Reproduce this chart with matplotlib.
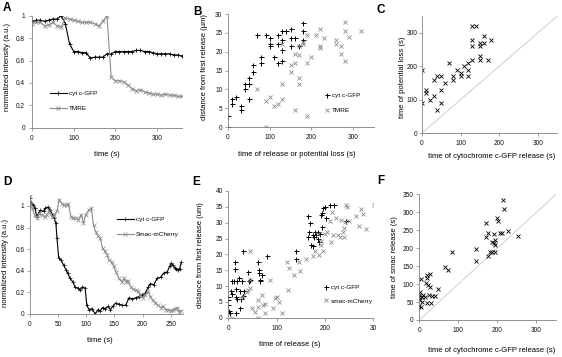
import matplotlib
matplotlib.use('Agg')
import matplotlib.pyplot as plt

plt.rcParams['font.family'] = ['Liberation Sans', 'DejaVu Sans']

# ---- panel A: intensity traces
a_time = [0, 10, 20, 30, 40, 50, 60, 70, 80, 90, 100, 110, 120, 130, 140, 150, 160, 170, 180,
          190, 200, 210, 220, 230, 240, 250, 260, 270, 280, 290, 300, 310, 320, 330, 340, 350, 360]
a_cyt = [0.95, 0.96, 0.96, 0.95, 0.96, 0.97, 0.97, 1.00, 0.93, 0.75, 0.68, 0.68, 0.67, 0.67, 0.62,
         0.63, 0.63, 0.63, 0.66, 0.66, 0.68, 0.68, 0.68, 0.68, 0.68, 0.69, 0.69, 0.68, 0.68, 0.67,
         0.66, 0.66, 0.66, 0.66, 0.65, 0.65, 0.64]
a_tmre = [0.93, 0.94, 0.94, 0.91, 0.92, 0.94, 0.91, 0.90, 0.98, 0.97, 0.96, 0.95, 0.94, 0.94, 0.94,
          0.93, 0.91, 0.95, 1.00, 0.45, 0.42, 0.42, 0.41, 0.38, 0.35, 0.33, 0.34, 0.32, 0.31, 0.30,
          0.30, 0.29, 0.30, 0.29, 0.29, 0.28, 0.28]

# ---- panel B: distance vs time of release
b_cyt_t = [0, 0, 10, 10, 20, 30, 30, 40, 40, 50, 50, 50, 60, 60, 70, 80, 80, 90, 100, 100, 100, 110,
           120, 120, 120, 130, 130, 130, 130, 140, 150, 150, 150, 160, 170, 180, 180, 180]
b_cyt_d = [3, 0, 7.5, 6, 8, 5.5, 4.5, 11.5, 10, 11.5, 13, 7.5, 16.5, 14.5, 24.5, 18.5, 17, 24.5, 22,
           21.5, 23.5, 18.5, 24.5, 22, 17, 25.5, 23, 20.5, 17.5, 25.5, 26, 23.5, 21.5, 23.5, 21.5,
           27.5, 25.5, 23]
b_tmre_t = [70, 90, 90, 100, 110, 120, 130, 130, 130, 150, 150, 160, 160, 160, 170, 170, 170, 170,
            180, 180, 190, 190, 190, 200, 210, 220, 220, 220, 230, 260, 260, 270, 270, 280, 280, 280,
            290, 320]
b_tmre_d = [10, 0, 7, 8, 5.5, 6, 7.5, 11.5, 22, 14.5, 16.5, 4.5, 17, 19.5, 11.5, 13, 21.5, 19, 22.5,
            22, 24.5, 17, 3, 18.5, 24.5, 26, 21.5, 21, 23.5, 23, 22, 21.5, 19.5, 28, 25.5, 17.5, 24,
            25.5]

# ---- panel C: potential loss vs cyt c release
c_cyt = [0, 0, 10, 10, 20, 30, 30, 40, 40, 50, 50, 50, 60, 70, 80, 80, 90, 100, 100, 110, 120, 120,
         120, 130, 140, 130, 130, 130, 150, 150, 150, 150, 160, 160, 170, 180]
c_loss = [190, 90, 130, 120, 100, 160, 110, 70, 170, 170, 130, 90, 150, 210, 170, 160, 190, 180, 170,
          200, 210, 190, 170, 320, 320, 280, 260, 220, 270, 260, 230, 220, 290, 270, 220, 280]

# ---- panel D: intensity traces
d_cyt_t = [0, 3, 6, 9, 12, 15, 18, 24, 27, 32, 36, 40, 43, 46, 48, 51, 55, 60, 64, 67, 71, 76, 80,
           85, 89, 93, 98, 101, 105, 110, 116, 121, 125, 129, 134, 139, 143, 147, 152, 158, 164, 170,
           176, 182, 188, 193, 199, 205, 210, 214, 220, 226, 232, 238, 244, 248, 251, 254, 257, 260,
           263, 266, 269]
d_cyt = [1.07, 1.02, 1.01, 0.98, 0.90, 0.93, 0.96, 0.95, 0.98, 0.99, 0.96, 0.92, 0.89, 0.84, 0.70,
         0.52, 0.50, 0.45, 0.41, 0.38, 0.33, 0.30, 0.25, 0.24, 0.22, 0.25, 0.24, 0.08, 0.04, 0.05,
         0.00, 0.04, 0.03, 0.06, 0.05, 0.07, 0.04, 0.07, 0.10, 0.09, 0.08, 0.08, 0.15, 0.14, 0.15,
         0.16, 0.18, 0.19, 0.25, 0.28, 0.27, 0.33, 0.34, 0.38, 0.39, 0.44, 0.47, 0.45, 0.43, 0.42,
         0.41, 0.42, 0.48]
d_smac_t = [0, 2, 4, 8, 12, 16, 21, 26, 30, 34, 39, 43, 48, 52, 57, 61, 65, 68, 73, 77, 82, 86, 91,
            95, 99, 104, 109, 113, 117, 121, 125, 129, 133, 137, 140, 145, 149, 153, 158, 163, 167,
            171, 174, 179, 183, 188, 192, 196, 200, 205, 210, 214, 218, 223, 228, 232, 236, 241, 246,
            250, 254, 258, 262, 265, 268]
d_smac = [1.09, 1.02, 0.98, 0.92, 0.89, 0.93, 0.92, 0.90, 0.92, 0.95, 0.90, 0.92, 0.95, 1.06, 1.02,
          1.01, 1.01, 1.02, 0.90, 0.89, 0.89, 0.87, 0.92, 0.84, 0.92, 0.96, 0.98, 0.82, 0.76, 0.72,
          0.70, 0.61, 0.58, 0.55, 0.50, 0.48, 0.44, 0.39, 0.33, 0.30, 0.33, 0.30, 0.31, 0.25, 0.23,
          0.22, 0.21, 0.18, 0.15, 0.18, 0.21, 0.16, 0.13, 0.10, 0.08, 0.06, 0.07, 0.04, 0.04, 0.03,
          0.04, 0.05, 0.06, 0.02, 0.03]

# ---- panel E: distance vs time of release
e_cyt_t = [0, 0, 0, 1, 3, 5, 7, 7, 12, 14, 14, 15, 16, 17, 19, 19, 22, 24, 24, 26, 28, 31, 31, 33,
           40, 43, 45, 62, 63, 64, 65, 66, 70, 80, 140, 140, 165, 166, 168, 170, 172, 175, 178, 180,
           182, 185, 186, 188, 190, 192, 194, 195, 197, 200, 203, 210, 220, 245, 176]
e_cyt_d = [6.5, 5.5, 4, 2, 1.5, 8.5, 11.5, 7.5, 11.5, 17.5, 15.5, 6.5, 1.5, 9, 11.5, 6, 12.5, 8.5, 3,
           6, 11.5, 21, 7, 8.5, 14.5, 11.5, 12, 17.5, 15, 14, 11.5, 12, 13.5, 19.5, 21, 18.5, 25.5,
           32, 27, 30, 23, 26, 25.5, 27, 26, 25, 27, 24, 26.5, 32.5, 33, 28.5, 34.5, 35, 31.5, 35.5,
           35.5, 30.5, 22.5]
e_smac_t = [8, 26, 30, 38, 41, 45, 45, 45, 50, 55, 61, 62, 62, 69, 72, 76, 77, 86, 93, 97, 100, 105,
            112, 121, 124, 125, 137, 146, 148, 162, 175, 180, 186, 188, 192, 193, 197, 200, 205, 210,
            212, 214, 218, 224, 228, 231, 234, 238, 240, 241, 240, 245, 247, 250, 265, 270, 276, 279,
            286, 302]
e_smac_d = [0, 6.3, 7, 8, 8.7, 21, 12, 9.5, 3, 1.9, 3.5, 0, 5.5, 7.2, 4, 4.2, 1.4, 11.9, 3.2, 6.1,
            6.6, 5, 1.4, 17.5, 8.7, 15.6, 13.5, 17.5, 14.7, 18.5, 19.5, 21, 26.5, 19.8, 24.2, 23, 21,
            26.3, 27, 30.5, 24, 33.3, 26, 31.4, 26.1, 25.6, 30.8, 27.2, 28.2, 30.1, 25.6, 35.5, 35,
            30.5, 32, 29, 34.3, 32.6, 28, 35.5]

# ---- panel F: smac release vs cyt c release
f_cyt = [215, 217, 170, 200, 202, 175, 170, 192, 206, 212, 226, 253, 195, 192, 187, 194, 187, 180,
         195, 175, 144, 144, 83, 67, 73, 4, 19, 27, 19, 16, 21, 27, 47, 2, 0, 10, 6, 14, 25, 33, 40,
         2, 8, 19, 30, 4, 0, 0]
f_smac = [334, 308, 269, 283, 277, 243, 230, 239, 243, 241, 249, 234, 222, 215, 218, 209, 190, 188,
          188, 179, 197, 164, 188, 147, 139, 113, 125, 128, 116, 104, 97, 93, 86, 79, 71, 71, 65, 63,
          71, 67, 67, 56, 51, 48, 48, 35, 39, 65]

W, H = 562, 357
fig = plt.figure(figsize=(W / 100, H / 100), dpi=100)

AXC = '#808080'
GRAY = '#8c8c8c'
TICK_FS = 4.7
LAB_FS = 5.5
LEG_FS = 4.6


def box(left, right, bottom, top, ypad=2):
    ax = fig.add_axes([left / W, 1 - bottom / H, (right - left) / W, (bottom - top) / H])
    for s in ['top', 'right']:
        ax.spines[s].set_visible(False)
    for s in ['left', 'bottom']:
        ax.spines[s].set_color(AXC)
        ax.spines[s].set_linewidth(0.6)
    ax.tick_params(length=2, width=0.5, color=AXC, labelsize=TICK_FS, labelcolor='#111111')
    ax.tick_params(axis='x', pad=3)
    ax.tick_params(axis='y', pad=ypad)
    return ax


def ftext(x, y, s, **kw):
    fig.text(x / W, 1 - y / H, s, ha='center', va='center', **kw)


def num(v):
    return '%g' % v


def leg(ax, x, y, **kw):
    ax.legend(loc='upper left', bbox_to_anchor=(x / W, 1 - y / H), bbox_transform=fig.transFigure,
              frameon=False, fontsize=LEG_FS, borderpad=0, borderaxespad=0, **kw)


# A
ax = box(32, 182, 127.7, 15.7, ypad=3)
ax.plot(a_time, a_cyt, color='black', lw=0.8, marker='+', ms=3, mew=0.6, label='cyt c-GFP')
ax.plot(a_time, a_tmre, color=GRAY, lw=0.8, marker='x', ms=2.6, mew=0.6, label='TMRE')
ax.set_xlim(0, 360)
ax.set_ylim(0, 1)
ax.set_xticks([0, 100, 200, 300])
ax.set_yticks([0, 0.2, 0.4, 0.6, 0.8, 1.0])
ax.set_yticklabels([num(v) for v in [0, 0.2, 0.4, 0.6, 0.8, 1]])
leg(ax, 50, 91, handlelength=2.6, handletextpad=0.3, labelspacing=1.4)

# B
ax = box(228, 374, 127, 14)
ax.plot(b_cyt_t, b_cyt_d, ls='none', color='black', marker='+', ms=3.6, mew=0.7, label='cyt c-GFP')
ax.plot(b_tmre_t, b_tmre_d, ls='none', color=GRAY, marker='x', ms=3, mew=0.6, label='TMRE')
ax.set_xlim(0, 350)
ax.set_ylim(0, 30)
ax.set_xticks([0, 100, 200, 300])
ax.set_yticks(range(0, 31, 5))
leg(ax, 324, 93, handlelength=1, handletextpad=0.2, labelspacing=1.4)

# C
ax = box(422, 557, 133, 16.3, ypad=1)
ax.plot([0, 350], [0, 350], color='#c8c8c8', lw=0.6)
ax.plot(c_cyt, c_loss, ls='none', color='black', marker='x', ms=3, mew=0.6)
ax.set_xlim(0, 350)
ax.set_ylim(0, 350)
ax.set_xticks([0, 100, 200, 300])
ax.set_yticks([0, 100, 200, 300])

# D
ax = box(30, 183, 314, 195.2)
ax.plot(d_cyt_t, d_cyt, color='black', lw=0.8, marker='+', ms=2.6, mew=0.5, label='cyt c-GFP')
ax.plot(d_smac_t, d_smac, color=GRAY, lw=0.8, marker='x', ms=2.4, mew=0.5, label='Smac-mCherry')
ax.set_xlim(0, 272)
ax.set_ylim(0, 1.1)
ax.set_xticks([0, 50, 100, 150, 200, 250])
ax.set_yticks([0, 0.2, 0.4, 0.6, 0.8, 1.0])
ax.set_yticklabels([num(v) for v in [0, 0.2, 0.4, 0.6, 0.8, 1]])
leg(ax, 117, 217, handlelength=2.6, handletextpad=0.3, labelspacing=1.4)

# E
ax = box(228.3, 373, 317.7, 191)
ax.plot(e_cyt_t, e_cyt_d, ls='none', color='black', marker='+', ms=3.6, mew=0.7, label='cyt c-GFP')
ax.plot(e_smac_t, e_smac_d, ls='none', color=GRAY, marker='x', ms=3, mew=0.6, label='smac-mCherry')
ax.set_xlim(0, 300)
ax.set_ylim(0, 40)
ax.set_xticks([0, 100, 200, 300])
ax.set_xticklabels(['0', '100', '200', '30'])
ax.set_yticks(range(0, 41, 5))
leg(ax, 323, 285, handlelength=1, handletextpad=0.2, labelspacing=1.2)

# F
ax = box(419.3, 556, 320, 194.3)
ax.plot([0, 350], [0, 350], color='#c8c8c8', lw=0.6)
ax.plot(f_cyt, f_smac, ls='none', color='black', marker='x', ms=3, mew=0.6)
ax.set_xlim(0, 350)
ax.set_ylim(0, 350)
ax.set_xticks([0, 100, 200, 300])
ax.set_yticks(range(0, 351, 50))

# axis titles
ftext(107, 155, 'time (s)', fontsize=LAB_FS)
ftext(8, 67, 'normalized intensity (a.u.)', fontsize=LAB_FS, rotation=90)
ftext(297, 155, 'time of release or potential loss (s)', fontsize=LAB_FS)
ftext(205, 67, 'distance from first release (\u00b5m)', fontsize=LAB_FS, rotation=90)
ftext(492, 157, 'time of cytochrome c-GFP release (s)', fontsize=LAB_FS)
ftext(402, 77, 'time of potential loss (s)', fontsize=LAB_FS, rotation=90)
ftext(100, 340, 'time (s)', fontsize=LAB_FS)
ftext(6, 263, 'normalized intensity (a.u.)', fontsize=LAB_FS, rotation=90)
ftext(290, 345, 'time of release (s)', fontsize=LAB_FS)
ftext(201, 255, 'distance from first release (um)', fontsize=LAB_FS, rotation=90)
ftext(492, 350, 'time of cytochrome c-GFP release (s)', fontsize=LAB_FS)
ftext(395, 257, 'time of smac release (s)', fontsize=LAB_FS, rotation=90)

# panel letters
for letter, x, y in [('A', 7, 8), ('B', 197, 12), ('C', 381, 10),
                     ('D', 7, 182), ('E', 196, 182), ('F', 381, 181)]:
    ftext(x, y, letter, fontsize=8.5, fontweight='bold')

fig.savefig('out.png', dpi=100)
